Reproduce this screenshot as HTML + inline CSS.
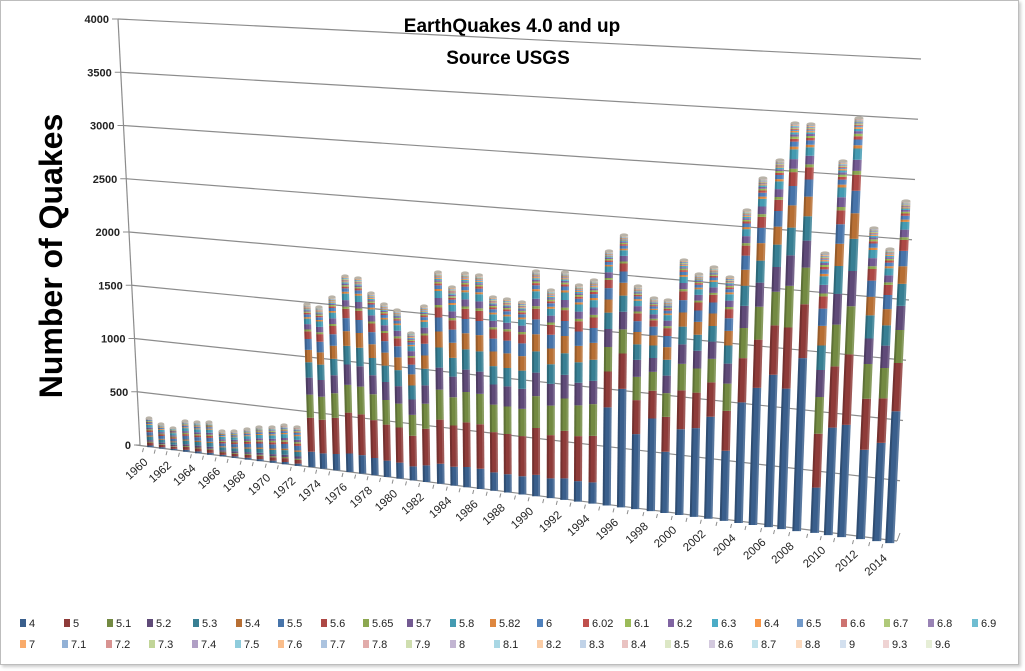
<!DOCTYPE html>
<html><head><meta charset="utf-8">
<style>
html,body{margin:0;padding:0;background:#fff;}
body{width:1025px;height:671px;overflow:hidden;position:relative;font-family:"Liberation Sans",sans-serif;}
#frame{position:absolute;left:0;top:0;width:1017px;height:663px;border:1px solid #bdbdbd;box-shadow:2px 2px 3px #ccc;}
svg{position:absolute;left:0;top:0;}
</style></head><body>
<div id="frame"></div>
<svg id="s" width="1025" height="671" xmlns="http://www.w3.org/2000/svg">
<text x="512" y="32" font-family="Liberation Sans, sans-serif" font-weight="bold" font-size="19" text-anchor="middle">EarthQuakes  4.0 and up</text>
<text x="508" y="64" font-family="Liberation Sans, sans-serif" font-weight="bold" font-size="19" text-anchor="middle">Source USGS</text>
<text transform="translate(62,256) rotate(-90)" font-family="Liberation Sans, sans-serif" font-weight="bold" font-size="32" text-anchor="middle">Number of Quakes</text>
<g id="g"></g>
</svg>
<script>
var NS="http://www.w3.org/2000/svg",g=document.getElementById('g');
function el(t,a,txt){var e=document.createElementNS(NS,t);for(var k in a)e.setAttribute(k,a[k]);if(txt!==undefined)e.textContent=txt;g.appendChild(e);return e;}
function L(a,b,t){return a+(b-a)*t;}
var BL=[140,445],TL=[118,19],BR=[897,541],TR=[921,59];
for(var v=0;v<=4000;v+=500){var t=v/4000;
 var x1=L(BL[0],TL[0],t),y1=L(BL[1],TL[1],t),x2=L(BR[0],TR[0],t),y2=L(BR[1],TR[1],t);
 if(v>0)el('line',{x1:x1,y1:y1,x2:x2,y2:y2,stroke:'#8c8c8c','stroke-width':1.2});
 el('line',{x1:x1-6,y1:y1,x2:x1,y2:y1,stroke:'#8c8c8c'});
 el('text',{x:x1-9,y:y1+4,'font-size':11,'font-weight':'bold','text-anchor':'end',fill:'#222'},String(v));
}
el('line',{x1:TL[0],y1:TL[1],x2:BL[0],y2:BL[1],stroke:'#8c8c8c','stroke-width':1.2});
el('line',{x1:BL[0]-4,y1:BL[1],x2:BR[0],y2:BR[1],stroke:'#8c8c8c','stroke-width':1.2});
el('line',{x1:BR[0],y1:BR[1],x2:BR[0]+3,y2:BR[1]-8,stroke:'#8c8c8c'});
var base=[[79,129,189],[192,80,77],[155,187,89],[128,100,162],[75,172,198],[247,150,70]];
var tiers=[['s',0.74],['s',0.9],['s',1],['t',0.2],['t',0.38],['t',0.52],['t',0.65],['t',0.75]];
var cols=[];
for(var i=0;i<46;i++){var b=base[i%6],tr=tiers[Math.floor(i/6)],c;
 if(tr[0]=='s')c=b.map(function(x){return Math.round(x*tr[1]);});else c=b.map(function(x){return Math.round(x+(255-x)*tr[1]);});
 cols.push('rgb('+c.join(',')+')');}
var names=['4','5','5.1','5.2','5.3','5.4','5.5','5.6','5.65','5.7','5.8','5.82','6','6.02','6.1','6.2','6.3','6.4','6.5','6.6','6.7','6.8','6.9','7','7.1','7.2','7.3','7.4','7.5','7.6','7.7','7.8','7.9','8','8.1','8.2','8.3','8.4','8.5','8.6','8.7','8.8','9','9.3','9.6'];
var bars=[[149,418],[161,424],[173,428],[185,421],[197,422],[209,422],[222,431],[234,431],[247,429],[259,427],[272,427],[284,425],[297,427],
[307,304],[319,307],[332,297],[345,276],[358,278],[371,293],[384,304],[397,310],[411,333],[424,306],[438,272],[452,287],[465,273],[479,275],[493,297],[507,299],
[522,302],[536,271],[551,290],[565,272],[579,285],[594,280],[609,251],[624,235],[638,286],[654,298],[668,300],[684,260],[699,274],[714,267],[730,277],[747,210],[763,178],[780,160],[795,123],[811,124],[825,253],[843,161],[859,118],[874,228],[890,249],[906,201]];
var blueF={1995:0.4,1996:0.45,1997:0.35,1998:0.45,1999:0.3,2000:0.35,2001:0.38,2002:0.42,2003:0.3,2004:0.4,2005:0.41,2006:0.43,2007:0.36,2008:0.44,2009:0.17,2010:0.3,2011:0.28,2012:0.3,2013:0.35,2014:0.4};
var profA=[0.10,0.22,0.15,0.11,0.10,0.08,0.07,0.05,0.012,0.035,0.035,0.01,0.018,0.01,0.008,0.008,0.007,0.005,0.004,0.004,0.004,0.003,0.003,0.003,0.002,0.002,0.002,0.002];
var profS=[0.06,0.1,0.03,0.06,0.12,0.04,0.12,0.06,0.04,0.06,0.1,0.03,0.05,0.02,0.03,0.02,0.02,0.01,0.01,0.01,0.01,0.01,0.01,0.01];
for(var i=0;i<bars.length;i++){
 var yr=1960+i,xt=bars[i][0],yt=bars[i][1];
 var yb=L(BL[1],BR[1],(xt-140)/(897-140))+1;
 var k=0.00013*(xt-540);
 var h=yb-yt, xb=xt-k*h, w=6.5+2.5*i/54;
 var p;
 if(i<13)p=profS.slice();
 else{p=profA.slice();if(blueF[yr]){var bf=blueF[yr];var rest=1-p[0];var sc=(1-bf)/rest;p=p.map(function(x){return x*sc;});p[0]=bf;}}
 var s=p.reduce(function(a,b){return a+b;},0);
 var y=yb;
 for(var j=0;j<p.length;j++){var hh=p[j]/s*h;var y2=y-hh;
  var xa=xb+k*(yb-y),xc=xb+k*(yb-y2);
  el('polygon',{points:(xa-w/2)+','+y+' '+(xa+w/2)+','+y+' '+(xc+w/2)+','+y2+' '+(xc-w/2)+','+y2,fill:cols[j]});
  y=y2;}
 el('polygon',{points:(xb-w/2)+','+yb+' '+(xb-w/2+2)+','+yb+' '+(xt-w/2+2)+','+yt+' '+(xt-w/2)+','+yt,fill:'rgba(0,0,0,0.18)'});
 el('polygon',{points:(xb+w/2-2)+','+yb+' '+(xb+w/2)+','+yb+' '+(xt+w/2)+','+yt+' '+(xt+w/2-2)+','+yt,fill:'rgba(255,255,255,0.15)'});
 el('ellipse',{cx:xt,cy:yt,rx:w/2,ry:1.6,fill:'#b9b3a8'});
 el('line',{x1:xb-7,y1:yb+1,x2:xb-8,y2:yb+5,stroke:'#8c8c8c'});
 if(i%2==0){var lx=xb-2,ly=yb+16;
  el('text',{x:lx,y:ly,'font-size':11.5,'text-anchor':'end',fill:'#222',transform:'rotate(-42 '+lx+' '+ly+')'},String(yr));}
}
var r1=[20,64,107,147,193,236,278,321,363,407,450,490,537,583,625,668,712,755,797,841,884,928,972];
var r2=[20,62,106,149,192,235,278,321,363,406,450,494,537,580,622,665,709,752,796,840,883,926];
for(var i=0;i<names.length;i++){var row=i<23?0:1,x=row?r2[i-23]:r1[i],y=row?648:627;
 el('rect',{x:x,y:y-8,width:6,height:8,fill:cols[i]});
 el('text',{x:x+9,y:y,'font-size':11,fill:'#222'},names[i]);}
</script>
</body></html>
